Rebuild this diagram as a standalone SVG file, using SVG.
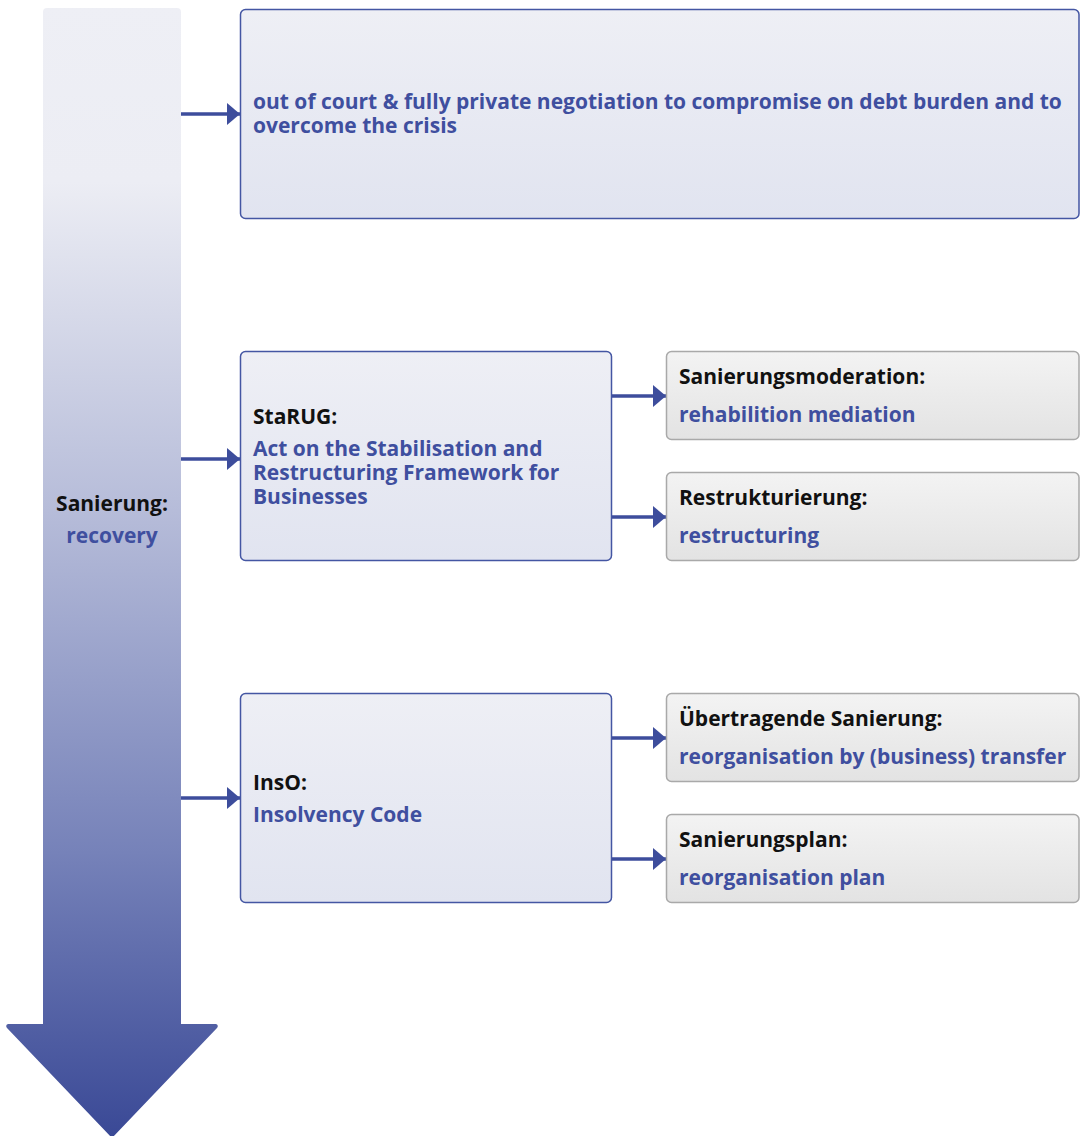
<svg xmlns="http://www.w3.org/2000/svg" width="1082" height="1136" viewBox="0 0 1082 1136">
<defs>
<linearGradient id="bigArrow" x1="0" y1="0" x2="0" y2="1136" gradientUnits="userSpaceOnUse">
<stop offset="0" stop-color="#EEEFF5"/>
<stop offset="0.16" stop-color="#ECEDF4"/>
<stop offset="0.45" stop-color="#B6BCD9"/>
<stop offset="0.75" stop-color="#7682B9"/>
<stop offset="1" stop-color="#3A4996"/>
</linearGradient>
<linearGradient id="blueBox" x1="0" y1="0" x2="0" y2="1">
<stop offset="0" stop-color="#EEEFF5"/>
<stop offset="1" stop-color="#E1E4F0"/>
</linearGradient>
<linearGradient id="grayBox" x1="0" y1="0" x2="0" y2="1">
<stop offset="0" stop-color="#F3F3F3"/>
<stop offset="1" stop-color="#E3E3E3"/>
</linearGradient>
<marker id="ah" markerWidth="13" markerHeight="22" refX="13" refY="11" orient="auto" markerUnits="userSpaceOnUse">
<path d="M0,0 L13,11 L0,22 Z" fill="#3D4D9C"/>
</marker>
<style>
.bbox{fill:url(#blueBox);stroke:#4456A3;stroke-width:1.5}
.gbox{fill:url(#grayBox);stroke:#A9A9A9;stroke-width:1.5}
.conn{stroke:#3D4D9C;stroke-width:3.5;fill:none}
text{font-family:"Open Sans","Liberation Sans",sans-serif;font-weight:700;font-size:21px}
.b{fill:#3F4F9F}
.k{fill:#111111}
</style>
</defs>
<g id="main-arrow">
<path d="M47,8 H177 Q181,8 181,12 V1024 H216 Q219,1025 217,1028 L112,1138 L7,1028 Q5,1025 8,1024 H43 V12 Q43,8 47,8 Z" fill="url(#bigArrow)"/>
<text x="112" y="511" text-anchor="middle" class="k">Sanierung:</text>
<text x="112" y="543" text-anchor="middle" class="b">recovery</text>
</g>
<g id="connectors">
<line class="conn" x1="181" y1="114" x2="240" y2="114" marker-end="url(#ah)"/>
<line class="conn" x1="181" y1="459" x2="240" y2="459" marker-end="url(#ah)"/>
<line class="conn" x1="181" y1="798" x2="240" y2="798" marker-end="url(#ah)"/>
<line class="conn" x1="611" y1="396" x2="666" y2="396" marker-end="url(#ah)"/>
<line class="conn" x1="611" y1="517" x2="666" y2="517" marker-end="url(#ah)"/>
<line class="conn" x1="611" y1="738" x2="666" y2="738" marker-end="url(#ah)"/>
<line class="conn" x1="611" y1="859" x2="666" y2="859" marker-end="url(#ah)"/>
</g>
<g id="out-of-court">
<rect class="bbox" x="240.5" y="9.5" width="838.5" height="209" rx="5"/>
<text x="253" y="109" class="b">out of court &amp; fully private negotiation to compromise on debt burden and to</text>
<text x="253" y="133" class="b">overcome the crisis</text>
</g>
<g id="starug">
<rect class="bbox" x="240.5" y="351.5" width="371" height="209" rx="5"/>
<text x="253" y="424" class="k">StaRUG:</text>
<text x="253" y="456" class="b">Act on the Stabilisation and</text>
<text x="253" y="480" class="b">Restructuring Framework for</text>
<text x="253" y="504" class="b">Businesses</text>
</g>
<g id="sanierungsmoderation">
<rect class="gbox" x="666.5" y="351.5" width="412.5" height="88" rx="5"/>
<text x="679" y="384" class="k">Sanierungsmoderation:</text>
<text x="679" y="422" class="b">rehabilition mediation</text>
</g>
<g id="restrukturierung">
<rect class="gbox" x="666.5" y="472.5" width="412.5" height="88" rx="5"/>
<text x="679" y="505" class="k">Restrukturierung:</text>
<text x="679" y="543" class="b">restructuring</text>
</g>
<g id="inso">
<rect class="bbox" x="240.5" y="693.5" width="371" height="209" rx="5"/>
<text x="253" y="790" class="k">InsO:</text>
<text x="253" y="822" class="b">Insolvency Code</text>
</g>
<g id="uebertragende">
<rect class="gbox" x="666.5" y="693.5" width="412.5" height="88" rx="5"/>
<text x="679" y="726" class="k">Übertragende Sanierung:</text>
<text x="679" y="764" class="b">reorganisation by (business) transfer</text>
</g>
<g id="sanierungsplan">
<rect class="gbox" x="666.5" y="814.5" width="412.5" height="88" rx="5"/>
<text x="679" y="847" class="k">Sanierungsplan:</text>
<text x="679" y="885" class="b">reorganisation plan</text>
</g>
</svg>
